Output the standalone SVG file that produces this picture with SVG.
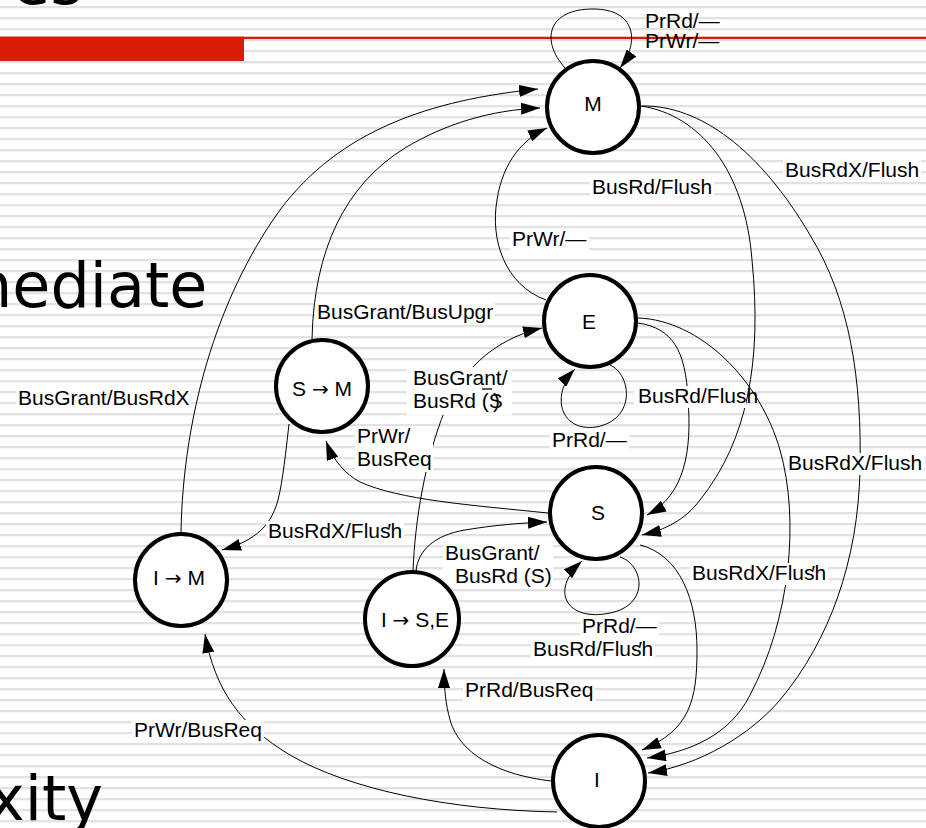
<svg xmlns="http://www.w3.org/2000/svg" width="926" height="828" viewBox="0 0 926 828">
  <defs>
    <pattern id="rule" x="0" y="0" width="926" height="11" patternUnits="userSpaceOnUse">
      <rect x="0" y="6" width="926" height="2.3" fill="#e2e2e2"/>
    </pattern>
    <marker id="ah" markerWidth="20" markerHeight="12" refX="19" refY="6" orient="auto" markerUnits="userSpaceOnUse">
      <path d="M0,0 L19,6 L0,12 z" fill="#000"/>
    </marker>
    <style>
      .slide { font-family: "DejaVu Sans", "Liberation Sans", sans-serif; font-size: 62px; fill: #000; }
      .node circle { fill: #fff; stroke: #000; stroke-width: 4; }
      .node text { font-family: "Liberation Sans", Arial, sans-serif; font-size: 21px; text-anchor: middle; fill: #000; }
      .node .arr { font-family: "DejaVu Sans", sans-serif; font-size: 20px; }
      .edge { fill: none; stroke: #000; stroke-width: 1; marker-end: url(#ah); }
      .lbl text { font-family: "Liberation Sans", Arial, sans-serif; font-size: 21px; fill: #000; }
      .lbl rect { fill: #fff; }
    </style>
  </defs>

  <!-- slide background: ruled paper -->
  <rect width="926" height="828" fill="#fff"/>
  <rect width="926" height="828" fill="url(#rule)"/>

  <!-- title accent -->
  <rect x="0" y="36.7" width="926" height="2.3" fill="#d81e05"/>
  <rect x="0" y="36.7" width="244" height="24.3" fill="#d81e05"/>

  <!-- slide text behind the diagram -->
  <text class="slide" x="12" y="4" font-size="72">es</text>
  <text class="slide" x="-27" y="307">nediate</text>
  <text class="slide" x="-12" y="820">xity</text>

  <!-- connectors -->
  <g id="connectors">
    <path class="edge" d="M565,68 C540,40 548,9 593,9 C636,9 640,42 620,68"/>
    <path class="edge" d="M181,532 C183,420 215,300 280,210 C340,130 430,100 538,89"/>
    <path class="edge" d="M312,339 C314,250 345,185 405,148 C445,124 490,110 540,108"/>
    <path class="edge" d="M546,300 C505,285 490,240 497,200 C503,160 525,138 547,128"/>
    <path class="edge" d="M641,106 C700,115 745,170 752,260 C762,360 748,440 700,500 C685,520 665,530 642,535"/>
    <path class="edge" d="M642,106 C700,105 760,150 810,235 C850,300 862,380 860,470 C858,560 830,640 780,700 C750,735 700,765 648,773"/>
    <path class="edge" d="M638,323 C672,328 686,350 688,400 C692,450 685,495 647,515"/>
    <path class="edge" d="M638,318 C700,320 760,380 780,450 C800,520 790,620 750,695 C730,735 690,752 647,758"/>
    <path class="edge" d="M640,545 C680,555 697,600 697,650 C697,700 690,730 642,750"/>
    <path class="edge" d="M610,365 C632,375 636,420 596,427 C560,432 550,395 575,369"/>
    <path class="edge" d="M620,557 C644,565 650,605 610,613 C568,622 548,592 582,561"/>
    <path class="edge" d="M548,513 C470,505 400,500 360,482 C345,474 333,460 326,441"/>
    <path class="edge" d="M413,571 C415,520 425,460 445,410 C460,375 490,340 542,328"/>
    <path class="edge" d="M289,424 C286,450 283,480 278,500 C270,530 250,542 222,550"/>
    <path class="edge" d="M416,571 C418,550 435,535 465,530 C495,525 520,523 547,522"/>
    <path class="edge" d="M551,781 C500,775 460,755 450,720 C446,705 444,690 444,669"/>
    <path class="edge" d="M557,812 C450,810 350,790 290,755 C240,725 215,690 205,634"/>
  </g>

  <!-- transition labels -->
  <g class="lbl">
    <g id="lbl-m-loop">
      <text x="645" y="28">PrRd/—</text>
      <text x="645" y="48">PrWr/—</text>
    </g>
    <g id="lbl-m-s"><rect x="590" y="177" width="124" height="22"/><text x="592" y="194">BusRd/Flush</text></g>
    <g id="lbl-m-i"><rect x="783" y="160" width="138" height="22"/><text x="785" y="177">BusRdX/Flush</text></g>
    <g id="lbl-e-m"><rect x="510" y="229" width="79" height="22"/><text x="512" y="246">PrWr/—</text></g>
    <g id="lbl-sm-m"><rect x="315" y="302" width="180" height="22"/><text x="317" y="319">BusGrant/BusUpgr</text></g>
    <g id="lbl-ise-e">
      <rect x="407" y="367" width="105" height="48"/>
      <text x="413" y="385">BusGrant/</text>
      <text x="413" y="408">BusRd (S<tspan dx="-10">)</tspan></text>
      <line x1="482" y1="389" x2="492" y2="389" stroke="#000" stroke-width="1.3"/>
    </g>
    <g id="lbl-e-loop"><rect x="550" y="430" width="79" height="22"/><text x="552" y="447">PrRd/—</text></g>
    <g id="lbl-e-s"><rect x="634" y="386" width="112" height="22"/><text x="638" y="403">BusRd/Flush</text></g>
    <g id="lbl-e-i"><rect x="786" y="453" width="138" height="22"/><text x="788" y="470">BusRdX/Flush</text></g>
    <g id="lbl-im-m"><rect x="16" y="388" width="175" height="22"/><text x="18" y="405">BusGrant/BusRdX</text></g>
    <g id="lbl-s-sm">
      <rect x="355" y="426" width="78" height="46"/>
      <text x="357" y="443">PrWr/</text>
      <text x="357" y="466">BusReq</text>
    </g>
    <g id="lbl-sm-im"><rect x="266" y="521" width="138" height="22"/><text x="268" y="538">BusRdX/Flush<tspan dx="-15">′</tspan></text></g>
    <g id="lbl-ise-s">
      <rect x="443" y="543" width="110" height="46"/>
      <text x="445" y="560">BusGrant/</text>
      <text x="455" y="583">BusRd (S)</text>
    </g>
    <g id="lbl-s-i"><rect x="690" y="563" width="138" height="22"/><text x="692" y="580">BusRdX/Flush<tspan dx="-15">′</tspan></text></g>
    <g id="lbl-s-loop">
      <rect x="580" y="616" width="79" height="22"/>
      <rect x="531" y="639" width="124" height="22"/>
      <text x="582" y="633">PrRd/—</text>
      <text x="533" y="656">BusRd/Flush<tspan dx="-15">′</tspan></text>
    </g>
    <g id="lbl-i-ise"><rect x="463" y="680" width="132" height="22"/><text x="465" y="697">PrRd/BusReq</text></g>
    <g id="lbl-i-im"><rect x="132" y="720" width="132" height="22"/><text x="134" y="737">PrWr/BusReq</text></g>
  </g>

  <!-- states -->
  <g id="node-M" class="node"><circle cx="593" cy="107" r="46"/><text x="593" y="111">M</text></g>
  <g id="node-E" class="node"><circle cx="590" cy="321" r="46"/><text x="589" y="329">E</text></g>
  <g id="node-S" class="node"><circle cx="596" cy="513" r="46"/><text x="598" y="520">S</text></g>
  <g id="node-I" class="node"><circle cx="599" cy="781" r="46"/><text x="597" y="787">I</text></g>
  <g id="node-SM" class="node"><circle cx="322" cy="386" r="46"/><text x="322" y="396">S <tspan class="arr">→</tspan> M</text></g>
  <g id="node-IM" class="node"><circle cx="181" cy="580" r="46"/><text x="179" y="585">I <tspan class="arr">→</tspan> M</text></g>
  <g id="node-ISE" class="node"><circle cx="412" cy="619" r="47"/><text x="415" y="627">I <tspan class="arr">→</tspan> S,E</text></g>
</svg>
